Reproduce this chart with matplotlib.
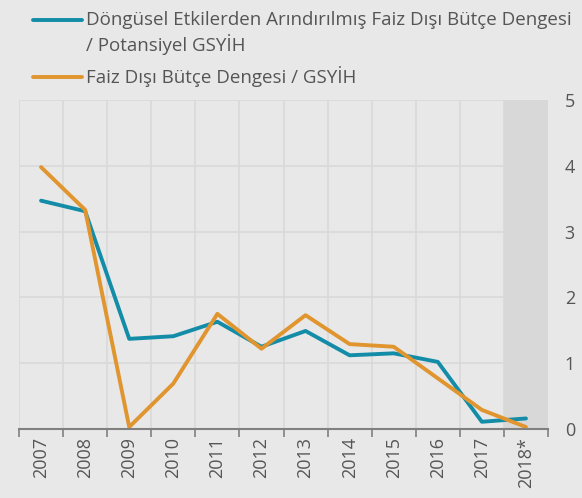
import matplotlib
matplotlib.use("Agg")
import matplotlib.pyplot as plt
from matplotlib.lines import Line2D
import numpy as np

years = ["2007", "2008", "2009", "2010", "2011", "2012", "2013", "2014", "2015", "2016", "2017", "2018*"]
cyc_adjusted = [3.47, 3.31, 1.37, 1.41, 1.63, 1.25, 1.49, 1.12, 1.15, 1.02, 0.11, 0.16]
primary_balance = [3.98, 3.33, 0.03, 0.69, 1.75, 1.22, 1.73, 1.29, 1.25, 0.77, 0.29, 0.03]
yticks = [0, 1, 2, 3, 4, 5]

label1a = "Döngüsel Etkilerden Arındırılmış Faiz Dışı Bütçe Dengesi"
label1b = "/ Potansiyel GSYİH"
label2 = "Faiz Dışı Bütçe Dengesi / GSYİH"

BG = "#e8e8e8"
BLUE = "#138ca8"
ORANGE = "#e0952f"
TXT = "#555555"

plt.rcParams['font.family'] = ['Open Sans', 'DejaVu Sans']

fig = plt.figure(figsize=(5.82, 4.98), dpi=100, facecolor=BG)
ax = fig.add_axes([19/582, 1-429/498, (548-19)/582, (429-100)/498])
ax.set_facecolor(BG)

x = np.arange(len(years))
ax.set_xlim(-0.5, len(years) - 0.5)
ax.set_ylim(0, 5)

# grid
for b in np.arange(-0.5, len(years), 1.0):
    ax.axvline(b, color="#d9d9d9", lw=1.2, zorder=1)
for yv in yticks[1:]:
    ax.axhline(yv, color="#d9d9d9", lw=1.2, zorder=1)

# shaded forecast
ax.axvspan(len(years) - 1.5, len(years) - 0.5, color="#d8d8d8", zorder=2, lw=0)

ax.plot(x, cyc_adjusted, color=BLUE, lw=2.8, zorder=4, solid_capstyle='round')
ax.plot(x, primary_balance, color=ORANGE, lw=2.8, zorder=5, solid_capstyle='round')

for s in ["left", "right", "top"]:
    ax.spines[s].set_visible(False)
ax.spines["bottom"].set_color("#808080")
ax.spines["bottom"].set_linewidth(1.5)
ax.spines["bottom"].set_zorder(6)

ax.set_xticks(x)
ax.set_xticklabels(years, rotation=90, fontsize=13, color=TXT)
ax.set_xticks(np.arange(-0.5, len(years), 1.0), minor=True)
ax.tick_params(axis="x", which="major", length=0, pad=6)
ax.tick_params(axis="x", which="minor", length=6, width=1.2, color="#808080", direction="out")

ax.yaxis.tick_right()
ax.set_yticks(yticks)
ax.set_yticklabels([str(v) for v in yticks], fontsize=13, color=TXT)
ax.tick_params(axis="y", length=0, pad=12)

# legend drawn manually
fig.add_artist(Line2D([33/582, 82/582], [1-20/498, 1-20/498], color=BLUE, lw=2.8, solid_capstyle='round'))
fig.add_artist(Line2D([33/582, 82/582], [1-77/498, 1-77/498], color=ORANGE, lw=2.8, solid_capstyle='round'))
fig.text(86/582, 1-20/498, label1a, fontsize=13.5, color=TXT, va="center", ha="left")
fig.text(86/582, 1-45/498, label1b, fontsize=13.5, color=TXT, va="center", ha="left")
fig.text(86/582, 1-77/498, label2, fontsize=13.5, color=TXT, va="center", ha="left")

fig.savefig("out.png", dpi=100, facecolor=BG)
